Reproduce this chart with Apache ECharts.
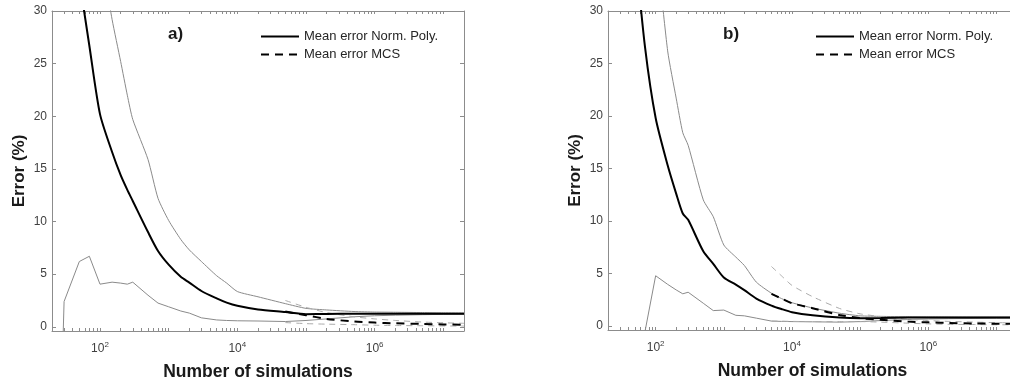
<!DOCTYPE html>
<html>
<head>
<meta charset="utf-8">
<script src="https://cdn.jsdelivr.net/npm/echarts@6/dist/echarts.min.js"></script>
<style>
  html, body { margin: 0; padding: 0; background: #fff; }
  #chart { width: 1010px; height: 383px; }
</style>
</head>
<body>
<div id="chart"></div>
<script>
// number of simulations for the Norm. Poly. curves
const sims = [29, 30, 50, 70, 100, 150, 200, 250, 300, 500, 700, 1000, 1500, 2000, 3000,
  5000, 7000, 1e4, 2e4, 5e4, 1e5, 2e5, 5e5, 1e6, 2e6, 5e6, 1e7, 2e7]

// panel a) error (%)
const meanPolyA = [null, null, 33, 26.7, 20.2, 16.6, 14.4, 13.0, 11.95, 9.0, 7.2, 5.9, 4.75, 4.2, 3.4,
  2.7, 2.3, 2.0, 1.65, 1.4, 1.2, 1.22, 1.25, 1.25, 1.25, 1.25, 1.25, 1.25]
const upperPolyA = [null, null, null, null, 36, 29.2, 25.2, 22.0, 19.7, 15.9, 12.2, 10.1, 8.3, 7.3, 6.2,
  4.85, 4.15, 3.35, 2.85, 2.2, 1.75, 1.6, 1.45, 1.4, 1.38, 1.35, 1.33, 1.32]
const lowerPolyA = [-1, 2.4, 6.2, 6.7, 4.05, 4.24, 4.15, 4.05, 4.24, 3.0, 2.25, 1.9, 1.5, 1.3, 0.85,
  0.65, 0.6, 0.57, 0.55, 0.5, 0.6, 0.75, 0.95, 1.05, 1.1, 1.15, 1.18, 1.2]
const mcsSimsA = [5e4, 1e5, 2e5, 5e5, 1e6, 2e6, 5e6, 1e7, 2e7]
const meanMcsA = [1.45, 1.1, 0.75, 0.5, 0.4, 0.33, 0.27, 0.22, 0.2]
const upperMcsA = [2.5, 1.85, 1.35, 0.95, 0.75, 0.6, 0.45, 0.38, 0.33]
const lowerMcsA = [0.4, 0.3, 0.25, 0.2, 0.15, 0.12, 0.1, 0.08, 0.07]

// panel b) error (%)
const meanPolyB = [null, null, 36, 26.5, 19.8, 15.3, 12.6, 10.7, 10.1, 7.1, 5.9, 4.6, 3.93, 3.4, 2.6,
  1.93, 1.6, 1.3, 1.0, 0.78, 0.72, 0.74, 0.78, 0.8, 0.8, 0.8, 0.8, 0.8]
const upperPolyB = [null, null, null, null, 37, 26.2, 21.7, 18.4, 17.2, 12.0, 10.4, 7.7, 6.55, 5.75, 4.16,
  3.1, 2.6, 2.2, 1.7, 1.2, 0.95, 0.9, 0.86, 0.85, 0.84, 0.83, 0.83, 0.83]
const lowerPolyB = [null, null, null, -0.5, 4.77, 3.95, 3.42, 3.05, 3.2, 2.15, 1.45, 1.5, 1.0, 0.95, 0.73,
  0.45, 0.42, 0.4, 0.38, 0.35, 0.4, 0.5, 0.6, 0.65, 0.68, 0.7, 0.72, 0.72]
const mcsSimsB = [5000, 7000, 1e4, 2e4, 5e4, 1e5, 2e5, 5e5, 1e6, 2e6, 5e6, 1e7, 2e7]
const meanMcsB = [3.05, 2.6, 2.15, 1.68, 1.03, 0.73, 0.57, 0.4, 0.33, 0.27, 0.22, 0.2, 0.19]
const upperMcsB = [5.65, 4.77, 3.85, 2.78, 1.65, 1.14, 0.88, 0.62, 0.5, 0.42, 0.35, 0.3, 0.28]
const lowerMcsB = [0.45, 0.44, 0.42, 0.4, 0.4, 0.4, 0.35, 0.25, 0.18, 0.14, 0.12, 0.1, 0.1]

// ticks and labels
const xLabelValues = [1e2, 1e4, 1e6]
const yTickValues = [0, 5, 10, 15, 20, 25, 30]
const legendNames = ['Mean error Norm. Poly.', 'Mean error MCS']
const panelTitles = ['a)', 'b)']

// log axis ticks: 1..9 x 10^n
const xTickValues = []
for (let e = 1; e <= 7; e++) {
  for (let k = 1; k <= 9; k++) xTickValues.push(k * Math.pow(10, e))
}

const font = 'Liberation Sans, Arial, Helvetica, sans-serif'
const boxGrey = '#8c8c8c'
const labelGrey = '#404040'
const nameColor = '#1a1a1a'

const panels = [
  { grid: { left: 52, top: 11, width: 412, height: 320 },
    polyY: [upperPolyA, lowerPolyA, meanPolyA],
    mcsX: mcsSimsA, mcsY: [upperMcsA, lowerMcsA, meanMcsA],
    titleLeft: 168, legendLeft: 260 },
  { grid: { left: 608, top: 11, width: 409, height: 319 },
    polyY: [upperPolyB, lowerPolyB, meanPolyB],
    mcsX: mcsSimsB, mcsY: [upperMcsB, lowerMcsB, meanMcsB],
    titleLeft: 723, legendLeft: 815 }
]

const pairs = (xs, ys) => xs.map((x, i) => [x, ys[i]])

function xAxes(p) {
  const base = {
    type: 'log', logBase: 10, gridIndex: p, min: 20, max: 2e7,
    axisLine: { show: true, onZero: false, lineStyle: { color: boxGrey, width: 1 } },
    axisTick: { show: true, inside: true, length: 3, customValues: xTickValues, lineStyle: { color: boxGrey } },
    splitLine: { show: false }
  }
  return [
    { ...base, position: 'bottom',
      name: 'Number of simulations', nameLocation: 'middle', nameGap: 32,
      nameTextStyle: { fontSize: 17.5, fontWeight: 'bold', color: nameColor, fontFamily: font },
      axisLabel: {
        customValues: xLabelValues, margin: 10,
        formatter: v => '{b|10}{s|' + Math.round(Math.log10(v)) + '}',
        rich: {
          b: { fontSize: 12, color: labelGrey, fontFamily: font, lineHeight: 16 },
          s: { fontSize: 8, color: labelGrey, fontFamily: font, verticalAlign: 'top', lineHeight: 10 }
        }
      } },
    { ...base, position: 'top', axisLabel: { show: false } }
  ]
}

function yAxes(p) {
  const base = {
    type: 'value', gridIndex: p, min: -0.4, max: 30,
    axisLine: { show: true, onZero: false, lineStyle: { color: boxGrey, width: 1 } },
    axisTick: { show: true, inside: true, length: 4, customValues: yTickValues, lineStyle: { color: boxGrey } },
    splitLine: { show: false }
  }
  return [
    { ...base, position: 'left',
      name: 'Error (%)', nameLocation: 'middle', nameGap: 24,
      nameTextStyle: { fontSize: 17, fontWeight: 'bold', color: nameColor, fontFamily: font },
      axisLabel: { customValues: yTickValues, margin: 5, fontSize: 12, color: labelGrey, fontFamily: font } },
    { ...base, position: 'right', axisLabel: { show: false } }
  ]
}

function panelSeries(p) {
  const d = panels[p]
  const mk = (name, xs, ys, lineStyle, z, smooth) => ({
    name, type: 'line', xAxisIndex: 2 * p, yAxisIndex: 2 * p,
    data: pairs(xs, ys), symbol: 'none', silent: true, z, smooth,
    itemStyle: { color: lineStyle.color }, lineStyle
  })
  const thin = { color: '#8a8a8a', width: 1 }
  const thinDash = { color: '#ababab', width: 1, type: [6, 5] }
  return [
    mk('Norm. Poly. max', sims, d.polyY[0], thin, 2, 0.2),
    mk('Norm. Poly. min', sims, d.polyY[1], thin, 2, false),
    mk('MCS max', d.mcsX, d.mcsY[0], thinDash, 2, 0.2),
    mk('MCS min', d.mcsX, d.mcsY[1], thinDash, 2, 0.2),
    mk(legendNames[0], sims, d.polyY[2], { color: '#000', width: 2 }, 3, 0.25),
    mk(legendNames[1], d.mcsX, d.mcsY[2], { color: '#000', width: 2, type: [8, 6] }, 3, 0.25)
  ]
}

const chart = echarts.init(document.getElementById('chart'))

chart.setOption({
  animation: false,
  backgroundColor: '#fff',
  grid: panels.map(d => ({ ...d.grid, containLabel: false, outerBoundsMode: 'none' })),
  title: panels.map((d, p) => ({
    text: panelTitles[p], left: d.titleLeft, top: 26, padding: 0,
    textStyle: { fontSize: 17, fontWeight: 'bold', color: nameColor, fontFamily: font }
  })),
  legend: panels.map(d => ({
    data: legendNames, orient: 'vertical', left: d.legendLeft, top: 30,
    itemWidth: 38, itemHeight: 12, itemGap: 5, padding: 0, selectedMode: false,
    itemStyle: { opacity: 0 },
    textStyle: { fontSize: 13, color: '#262626', fontFamily: font }
  })),
  xAxis: [...xAxes(0), ...xAxes(1)],
  yAxis: [...yAxes(0), ...yAxes(1)],
  series: [...panelSeries(0), ...panelSeries(1)]
})

window.addEventListener('resize', () => chart.resize())
</script>
</body>
</html>
